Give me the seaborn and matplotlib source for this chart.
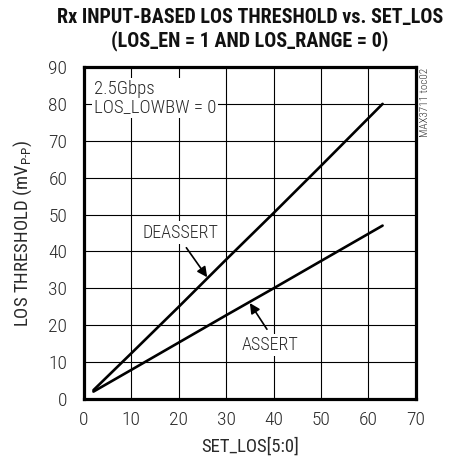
import matplotlib
matplotlib.use("Agg")

import pandas as pd
import seaborn as sns
import matplotlib.pyplot as plt
from matplotlib import font_manager

# Data
set_los = [2, 10, 20, 30, 40, 50, 63]
thr_deassert = [2.4, 12.4, 25.0, 37.8, 50.4, 63.2, 80.0]
thr_assert = [2.0, 7.9, 15.3, 22.7, 30.0, 37.4, 47.0]

x_ticks = [0, 10, 20, 30, 40, 50, 60, 70]
y_ticks = [0, 10, 20, 30, 40, 50, 60, 70, 80, 90]

df = pd.concat([
    pd.DataFrame({'SET_LOS': set_los, 'THR': thr_deassert, 'Edge': 'DEASSERT'}),
    pd.DataFrame({'SET_LOS': set_los, 'THR': thr_assert, 'Edge': 'ASSERT'}),
])

sns.set_style("white")
names = {f.name for f in font_manager.fontManager.ttflist}
narrow = next((n for n in ['Roboto Condensed', 'Archivo Narrow', 'Barlow Semi Condensed']
               if n in names), 'DejaVu Sans')
plt.rcParams['font.family'] = [narrow, 'DejaVu Sans']
plt.rcParams['font.weight'] = 'light'
plt.rcParams['mathtext.fontset'] = 'custom'
plt.rcParams['mathtext.rm'] = narrow + ':light'

txt_col = '#2a2a2a'

fig = plt.figure(figsize=(4.49, 4.62), dpi=100)
ax = fig.add_axes([0.187, 0.1364, 0.739, 0.7186])

sns.lineplot(data=df, x='SET_LOS', y='THR', units='Edge', estimator=None,
             color='black', lw=1.9, ax=ax, sort=False)

ax.set_xlim(0, 70)
ax.set_ylim(0, 90)
ax.set_xticks(x_ticks)
ax.set_yticks(y_ticks)
ax.grid(True, color='black', lw=0.8)
ax.tick_params(axis='y', length=0, labelsize=14, pad=12, colors=txt_col)
ax.tick_params(axis='x', length=0, labelsize=14, pad=9, colors=txt_col)
for s in ax.spines.values():
    s.set_visible(True)
    s.set_linewidth(2.3)
    s.set_color('black')

ax.set_xlabel("SET_LOS[5:0]", fontsize=13.5, color=txt_col, labelpad=6)
ax.set_ylabel("LOS THRESHOLD (mV$_{\\mathregular{P\\text{-}P}}$)", fontsize=13.5,
              color=txt_col, labelpad=10)

# two-line bold title, centred over the plot area
fig.text(0.557, 0.962, "Rx INPUT-BASED LOS THRESHOLD vs. SET_LOS", fontsize=14.5,
         weight='bold', ha='center', va='center', color='#111111')
fig.text(0.557, 0.911, "(LOS_EN = 1 AND LOS_RANGE = 0)", fontsize=14.5,
         weight='bold', ha='center', va='center', color='#111111')

box = dict(facecolor='white', edgecolor='none', pad=1.5)
ax.text(2.1, 81.6, "2.5Gbps\nLOS_LOWBW = 0", fontsize=13.5, va='center', ha='left',
        linespacing=1.0, color=txt_col, bbox=box, zorder=5)

ax.text(20.3, 45.1, "DEASSERT", fontsize=13, ha='center', va='center',
        color=txt_col, bbox=box, zorder=5)
ax.annotate("", xy=(26.0, 33.0), xytext=(21.6, 41.0),
            arrowprops=dict(arrowstyle='-|>', color='black', lw=1.2,
                            mutation_scale=15, shrinkA=0, shrinkB=0))

ax.text(39.2, 14.6, "ASSERT", fontsize=13, ha='center', va='center',
        color=txt_col, bbox=box, zorder=5)
ax.annotate("", xy=(35.0, 26.0), xytext=(38.6, 18.9),
            arrowprops=dict(arrowstyle='-|>', color='black', lw=1.2,
                            mutation_scale=15, shrinkA=0, shrinkB=0))

fig.text(0.947, 0.853, "MAX3711 toc02", rotation=90, fontsize=8, ha='center',
         va='top', color='#333333')

fig.savefig("out.png", dpi=100)
